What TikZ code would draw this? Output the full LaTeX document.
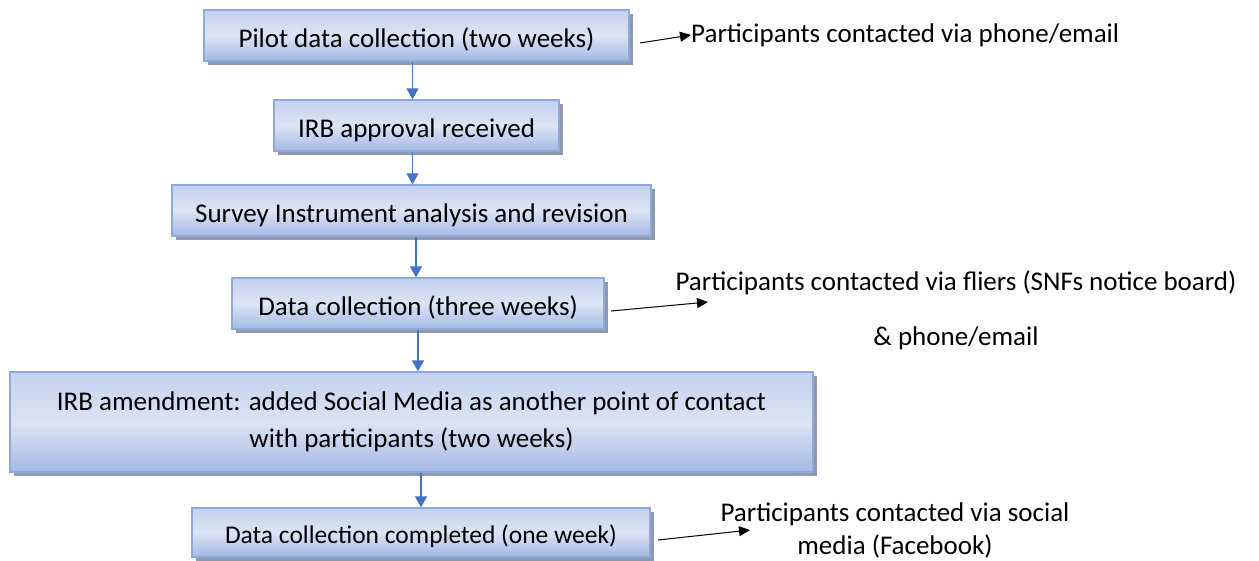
\documentclass[tikz,border=0pt]{standalone}
\usepackage{fontspec}
\setmainfont{Carlito}
\usetikzlibrary{arrows.meta,shadows,shadings}
\definecolor{boxedge}{HTML}{8EA9DB}
\definecolor{boxtop}{HTML}{C3D1EE}
\definecolor{boxmid}{HTML}{DCE4F4}
\definecolor{boxbot}{HTML}{A3B9E4}
\definecolor{shadowc}{HTML}{8E99B0}
\definecolor{flowblue}{HTML}{4472C4}
\tikzset{
  box/.style={draw=boxedge, line width=1.3pt, top color=boxtop, bottom color=boxbot, middle color=boxmid,
    drop shadow={shadow xshift=4pt, shadow yshift=-4pt, fill=shadowc, opacity=1},
    font=\fontsize{27}{37}\selectfont, align=center, inner sep=0pt},
  onebox/.style={box, text height=23pt, text depth=0pt},
  flow/.style={draw=flowblue, line width=1.2pt, -{Triangle[width=12pt,length=11pt]}, color=flowblue},
  note/.style={font=\fontsize{27}{33}\selectfont, inner sep=0pt, align=center},
  link/.style={draw=black, line width=1pt, -{Triangle[width=10pt,length=11pt]}}
}
\begin{document}
\begin{tikzpicture}[x=1pt,y=-1pt]
\useasboundingbox (0,0) rectangle (1259,560);
\node[onebox, minimum width=425, minimum height=51] (B1) at (416.5,35.5) {Pilot data collection (two weeks)};
\node[onebox, minimum width=285, minimum height=51] (B2) at (416.5,125.5) {IRB approval received};
\node[onebox, minimum width=479, minimum height=51] (B3) at (411.5,210.5) {Survey Instrument analysis and revision};
\node[onebox, minimum width=372, minimum height=51] (B4) at (418,303.5) {Data collection (three weeks)};
\node[box, minimum width=803, minimum height=100] (B5) at (411.5,422) {IRB amendment: added Social Media as another point of contact\\with participants (two weeks)};
\node[box, font=\fontsize{25.5}{30}\selectfont, text height=21pt, text depth=0pt, minimum width=458, minimum height=49] (B6) at (421,532.5) {Data collection completed (one week)};

\draw[flow] ([xshift=-4pt]B1.south) -- ([xshift=-4pt]B2.north);
\draw[flow] ([xshift=-4pt]B2.south) -- ([xshift=-4pt]B2.south |- B3.north);
\draw[flow] ([xshift=4.5pt]B3.south) -- ([xshift=4.5pt]B3.south |- B4.north);
\draw[flow] (B4.south) -- (B4.south |- B5.north);
\draw[flow] (B6.north |- B5.south) -- (B6.north);

\node[note, anchor=west] (T1) at (691,35) {Participants contacted via phone/email};
\node[note, font=\fontsize{27}{55}\selectfont] (T2) at (956,310.5) {Participants contacted via fliers (SNFs notice board)\\\& phone/email};
\node[note] (T3) at (895,530) {Participants contacted via social\\media (Facebook)};

\coordinate (s1) at (640,43);
\coordinate (s2) at (611,311);
\coordinate (e2) at (708,302);
\coordinate (s3) at (658,540);
\coordinate (e3) at (750,530);
\draw[link] (s1) -- (T1.west);
\draw[link] (s2) -- (e2);
\draw[link] (s3) -- (e3);
\end{tikzpicture}
\end{document}
